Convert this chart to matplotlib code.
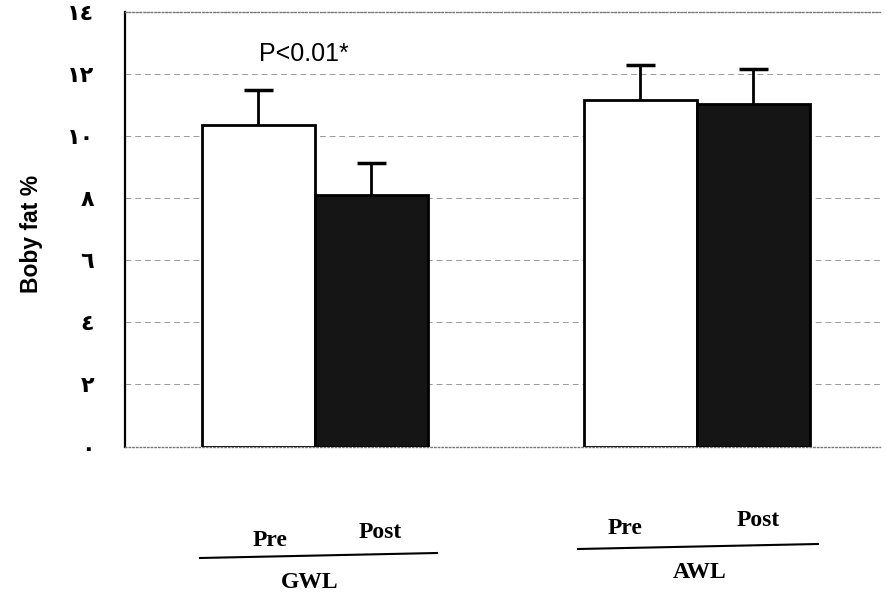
import matplotlib.pyplot as plt
import numpy as np

# values
groups = ['GWL', 'AWL']
phases = ['Pre', 'Post']
pre_vals = [10.35, 11.15]
post_vals = [8.1, 11.05]
pre_err = [1.15, 1.15]
post_err = [1.05, 1.1]
yticks = [0, 2, 4, 6, 8, 10, 12, 14]
ytick_labels = ['\u0660', '\u0662', '\u0664', '\u0666', '\u0668',
                '\u0661\u0660', '\u0661\u0662', '\u0661\u0664']

fig = plt.figure(figsize=(8.86, 6.01), dpi=100)
ax = fig.add_axes([0.141, 0.257, 0.852, 0.723])

centers = np.array([0.0, 3.38])
width = 1.0
ax.bar(centers, pre_vals, width, color='white', edgecolor='black', lw=2, zorder=3)
ax.bar(centers + width, post_vals, width, color='#151515', edgecolor='black', lw=2,
       zorder=3)

# upper-only error bars with a cap on top
for xs, vals, errs in [(centers, pre_vals, pre_err), (centers + width, post_vals, post_err)]:
    tops = np.array(vals) + np.array(errs)
    ax.vlines(xs, vals, tops, color='black', lw=2, zorder=4)
    ax.hlines(tops, xs - 0.13, xs + 0.13, color='black', lw=2.5, zorder=4)

ax.set_xlim(-1.18, 5.5)
ax.set_ylim(0, 14)
ax.set_yticks(yticks)
ax.set_yticklabels(ytick_labels, fontsize=16, fontweight='bold', family='DejaVu Sans')
ax.tick_params(axis='y', length=0, pad=22)
ax.set_xticks([])
ax.yaxis.grid(True, ls=(0, (6, 4)), color='#999999', lw=0.7)
ax.set_axisbelow(True)
for s in ['top', 'right', 'bottom']:
    ax.spines[s].set_linestyle(':')
    ax.spines[s].set_color('#777777')
    ax.spines[s].set_linewidth(1)
ax.spines['right'].set_visible(False)
ax.spines['left'].set_linewidth(1.6)

ax.set_ylabel('Boby fat %', fontsize=16.5, fontweight='bold', family='Liberation Sans')
ax.yaxis.set_label_coords(-0.108, 0.49)

ax.text(centers[0] + 0.4, 12.25, 'P<0.01*', fontsize=18, family='Liberation Sans',
        ha='center', va='bottom')

# group labels under the plot, in figure pixels
serif = dict(family='Liberation Serif', fontweight='bold', fontsize=17)
lab_pos = [((270, 540), (380, 533), (200, 437, 558), (310, 582)),
           ((625, 528), (758, 520), (578, 818, 549), (700, 573))]
H = 601.0
for g, (p_pre, p_post, ln, p_g) in zip(groups, lab_pos):
    fig.text(p_pre[0] / 886, 1 - p_pre[1] / H, phases[0], ha='center', va='center', **serif)
    fig.text(p_post[0] / 886, 1 - p_post[1] / H, phases[1], ha='center', va='center', **serif)
    fig.add_artist(plt.Line2D([ln[0] / 886, ln[1] / 886], [1 - ln[2] / H, 1 - (ln[2] - 5) / H],
                              color='black', lw=1.5))
    fig.text(p_g[0] / 886, 1 - p_g[1] / H, g, ha='center', va='center', **serif)

fig.savefig('out.png', dpi=100)
